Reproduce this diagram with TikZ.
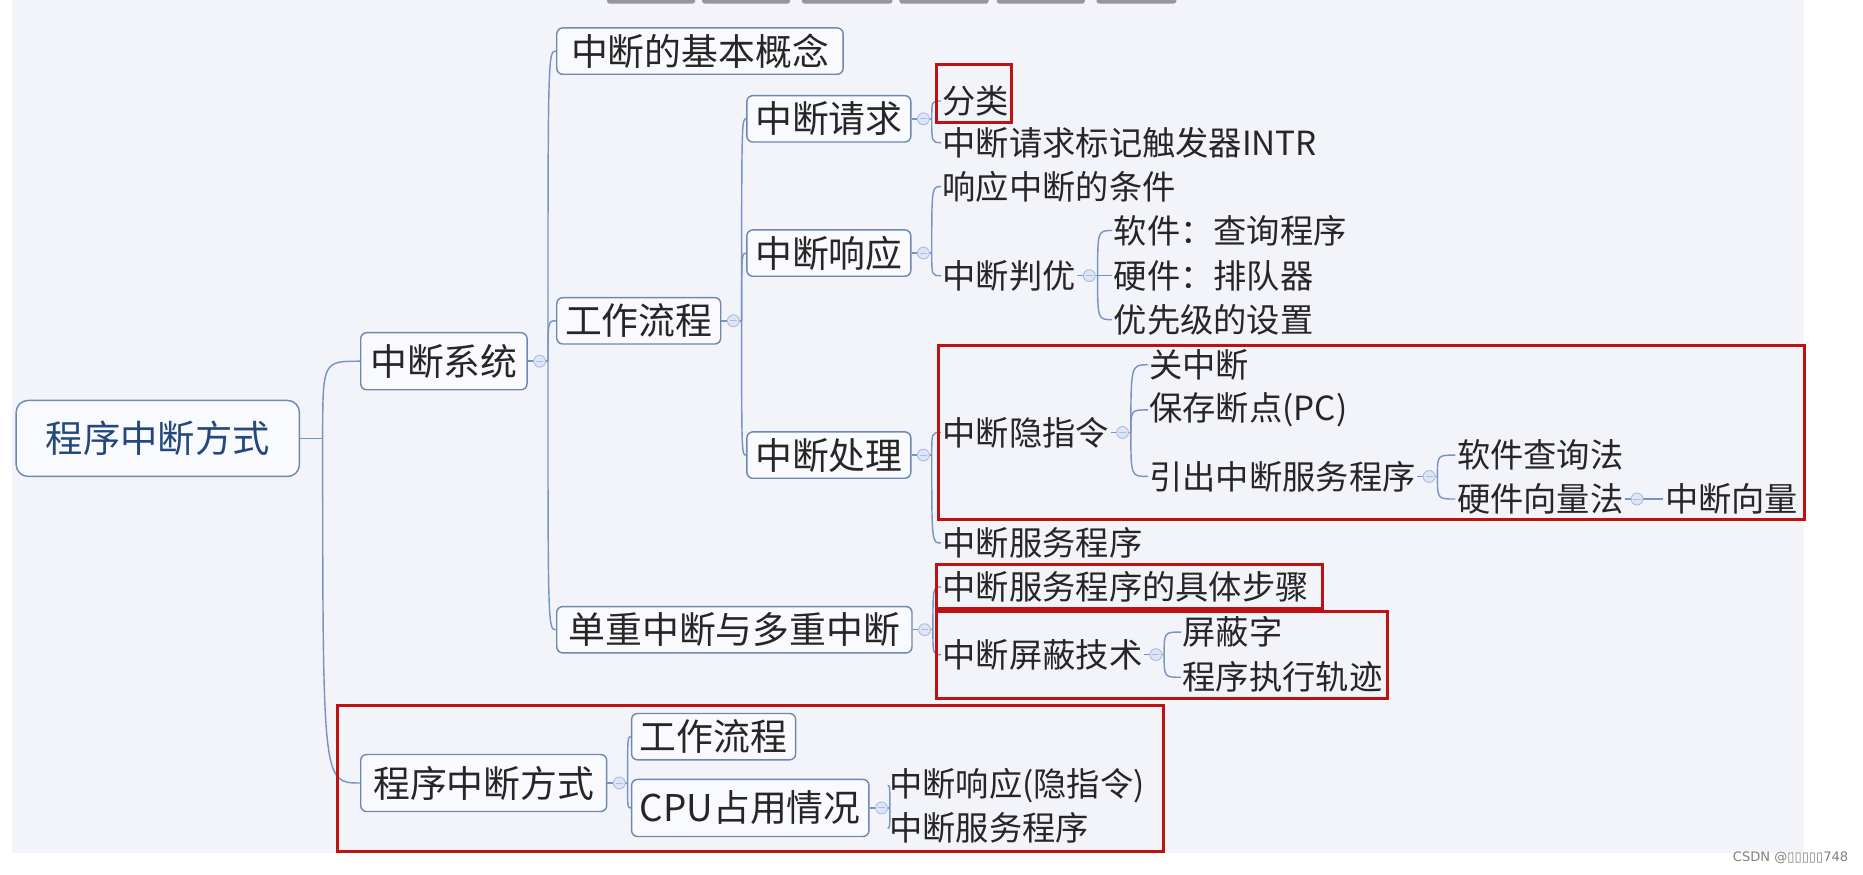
\documentclass[tikz,border=0pt]{standalone}
\usepackage{fontspec}
\setmainfont{Noto Sans CJK SC}
\newfontfamily\markfont{DejaVu Sans}
\usepackage{tikz}
\usetikzlibrary{calc}
\definecolor{bgpanel}{RGB}{243, 244, 249}
\definecolor{topicline}{RGB}{110, 136, 176}
\definecolor{topicfill}{RGB}{249, 250, 253}
\definecolor{branchcol}{RGB}{118, 148, 194}
\definecolor{textcol}{RGB}{38, 38, 38}
\definecolor{roottext}{RGB}{36, 72, 124}
\definecolor{markred}{RGB}{190, 18, 18}
\definecolor{foldline}{RGB}{170, 190, 225}
\definecolor{foldfill}{RGB}{222, 230, 246}
\definecolor{tabgray}{RGB}{150, 150, 156}

\begin{document}
\begin{tikzpicture}[x=0.5pt, y=-0.5pt,
  topic/.style={draw=topicline, fill=topicfill, rounded corners=2.5pt, line width=0.6pt, anchor=west,
    inner xsep=3.5pt, inner ysep=1pt, minimum height=19.5pt, font=\fontsize{15.5}{18}\selectfont, text=textcol},
  subject/.style={topic, minimum height=24pt, inner xsep=4pt},
  central/.style={topic, rounded corners=5pt, minimum height=32pt, inner xsep=12.5pt,
    font=\fontsize{15.7}{18}\selectfont, text=roottext},
  leaf/.style={anchor=west, inner xsep=0.5pt, inner ysep=1pt, font=\fontsize{14}{16}\selectfont, text=textcol},
  branch/.style={draw=branchcol, line width=0.6pt},
  foldicon/.style={circle, draw=foldline, fill=foldfill, line width=0.4pt, inner sep=0pt, minimum size=5pt,
    path picture={\draw[foldline, line width=0.4pt] ([xshift=-1.5pt]path picture bounding box.center) -- ([xshift=1.5pt]path picture bounding box.center);}},
  redbox/.style={draw=markred, line width=1.3pt}
  ]
  \useasboundingbox (0,0) rectangle (1568,736);
  \fill[white] (0,0) rectangle (1568,736);
  \fill[bgpanel] (10,0) rectangle (1518,718);
  \foreach \a/\b in {511/585, 591/665, 675/751, 757/832, 839/913, 923/990}
    \fill[tabgray, rounded corners=1pt] (\a,-4) rectangle (\b,3);

  % level 0 and 1
  \node[central] (root) at (13,369) {程序中断方式};
  \node[subject] (xitong) at (303,304) {中断系统};
  \node[subject, inner xsep=5.25pt] (fangshi) at (303,659) {程序中断方式};

  % interrupt system
  \node[topic, inner xsep=6pt] (gainian) at (468,43) {中断的基本概念};
  \node[topic] (liucheng) at (468,270) {工作流程};
  \node[topic, inner xsep=5pt] (duozhong) at (468,530) {单重中断与多重中断};

  \node[topic] (qingqiu) at (628,100) {中断请求};
  \node[topic] (xiangying) at (628,213) {中断响应};
  \node[topic] (chuli) at (628,383) {中断处理};

  \node[leaf] (fenlei) at (792,85) {分类};
  \node[leaf] (intr) at (792,120) {中断请求标记触发器INTR};
  \node[leaf] (tiaojian) at (792,157) {响应中断的条件};
  \node[leaf] (panyou) at (792,232) {中断判优};
  \node[leaf] (ruanjian) at (936,194) {软件：查询程序};
  \node[leaf] (yingjian) at (936,232) {硬件：排队器};
  \node[leaf] (youxian) at (936,269) {优先级的设置};

  \node[leaf] (yinzhiling) at (792,364) {中断隐指令};
  \node[leaf] (guanzd) at (966,307) {关中断};
  \node[leaf] (baocun) at (966,345) {保存断点(PC)};
  \node[leaf] (yinchu) at (966,401) {引出中断服务程序};
  \node[leaf] (chaxun) at (1225,383) {软件查询法};
  \node[leaf] (xiangliangfa) at (1225,420) {硬件向量法};
  \node[leaf] (zdxl) at (1400,420) {中断向量};
  \node[leaf] (fuwu) at (792,457) {中断服务程序};

  \node[leaf] (buzhou) at (792,494) {中断服务程序的具体步骤};
  \node[leaf] (pingbi) at (792,551) {中断屏蔽技术};
  \node[leaf] (pingbizi) at (994,532) {屏蔽字};
  \node[leaf] (guiji) at (994,570) {程序执行轨迹};

  % program interrupt mode
  \node[topic] (liucheng2) at (531,620) {工作流程};
  \node[subject, inner xsep=3.5pt] (cpu) at (531,680) {CPU占用情况};
  \node[leaf] (xyyzl) at (747,661) {中断响应(隐指令)};
  \node[leaf] (fuwu2) at (747,697) {中断服务程序};

  % connectors
  \draw[branch] (root.east) -- ++(19,0) coordinate (j0);
  \foreach \c in {xitong, fangshi}
    \draw[branch] (j0) .. controls (j0 |- \c.west) .. (\c.west);

  \foreach \p/\kids in {xitong/{gainian,liucheng,duozhong}, liucheng/{qingqiu,xiangying,chuli},
      qingqiu/{fenlei,intr}, xiangying/{tiaojian,panyou}, panyou/{ruanjian,yingjian,youxian},
      chuli/{yinzhiling,fuwu}, yinzhiling/{guanzd,baocun,yinchu}, yinchu/{chaxun,xiangliangfa},
      xiangliangfa/{zdxl}, duozhong/{buzhou,pingbi}, pingbi/{pingbizi,guiji},
      fangshi/{liucheng2,cpu}, cpu/{xyyzl,fuwu2}}{
    \draw[branch] (\p.east) -- ++(10,0) node[foldicon] {} -- ++(7,0) coordinate (j);
    \foreach \c in \kids
      \draw[branch] (j) .. controls (j |- \c.west) .. (\c.west);
  }

  % highlights
  \draw[redbox] (788,54) rectangle (851,103);
  \draw[redbox] (790,291) rectangle (1519,437);
  \draw[redbox] (788,475) rectangle (1113,512);
  \draw[redbox] (788,515) rectangle (1168,588);
  \draw[redbox] (284,594) rectangle (979,717);

  \node[anchor=east, inner sep=0pt, text=black!50, font=\markfont\fontsize{5.5}{6}\selectfont] (wm) at (1556,722) {CSDN @▯▯▯▯▯748};
\end{tikzpicture}
\end{document}
